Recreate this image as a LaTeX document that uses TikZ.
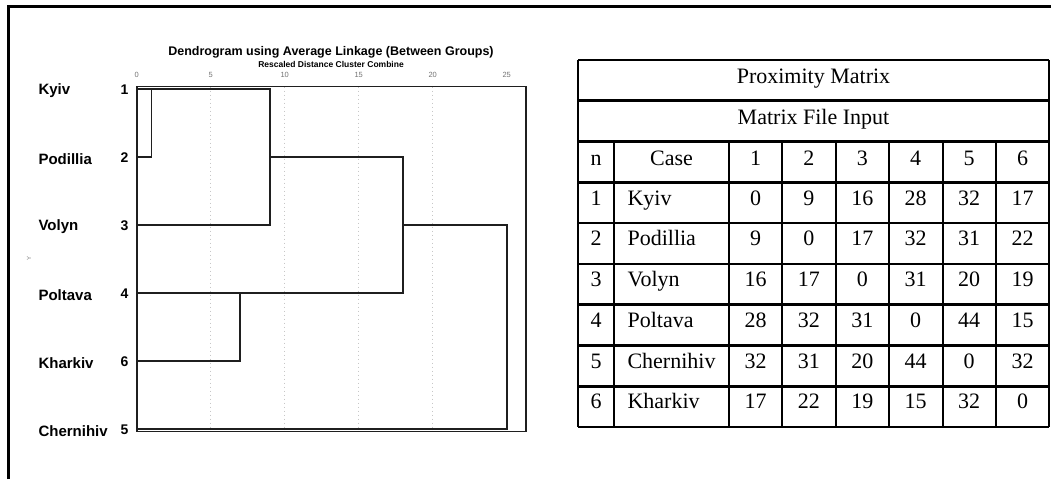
\documentclass[tikz,border=0pt]{standalone}
\usepackage{fontspec}
\setmainfont{Liberation Serif}
\newfontfamily\arialfont{Liberation Sans}
\begin{document}
\begin{tikzpicture}[x=1pt,y=-1pt,
    dline/.style={line width=1.8pt, black!88},
    gridline/.style={dash pattern=on 1.2pt off 2.8pt, black!22, line width=0.8pt},
    leaf/.style={font=\arialfont\bfseries\fontsize{15}{15}\selectfont, anchor=west},
    leafnum/.style={font=\arialfont\bfseries\fontsize{14}{14}\selectfont, anchor=east},
    ticklabel/.style={font=\arialfont\fontsize{7.5}{7.5}\selectfont, text=black!55},
    cell/.style={font=\fontsize{22}{22}\selectfont, anchor=base},
    tline/.style={line width=2.6pt}]
  \useasboundingbox (0,0) rectangle (1051,479);

  % Draw outer frame
  \draw[line width=3pt] (8.5,479) -- (8.5,6.5) -- (1051,6.5);

  % Titles of the dendrogram
  \node[font=\arialfont\bfseries\fontsize{12.5}{12.5}\selectfont] (title) at (331,52)
    {Dendrogram using Average Linkage (Between Groups)};
  \node[font=\arialfont\bfseries\fontsize{8.5}{8.5}\selectfont] (subtitle) at (331,64.5)
    {Rescaled Distance Cluster Combine};
  \node[rotate=90, font=\arialfont\fontsize{6}{6}\selectfont, text=black!50] (yaxis) at (29,258) {Y};

  % Leaf labels
  \foreach \name/\num/\y in {Kyiv/1/89, Podillia/2/157, Volyn/3/225,
                             Poltava/4/293, Kharkiv/6/361, Chernihiv/5/429} {
    \node[leaf] (l\num) at (35,\y+2) {\name};
    \node[leafnum] (n\num) at (132,\y+1) {\num};
  }

  % Dendrogram in distance units
  \begin{scope}[shift={(136.7,0)}, x=14.8pt]
    \foreach \v in {5,10,15,20}
      \draw[gridline] (\v,86.5) -- (\v,431.5);
    \foreach \v in {0,5,...,25}
      \node[ticklabel] (t\v) at (\v,75) {\v};

    \coordinate (c1) at (0,89);
    \coordinate (c2) at (0,157);
    \coordinate (c3) at (0,225);
    \coordinate (c4) at (0,293);
    \coordinate (c6) at (0,361);
    \coordinate (c5) at (0,429);

    % Draw merges
    \draw[dline] (c1) -- (9,89) -- (9,225) -- (c3);
    \draw[dline] (1,89) |- (c2);
    \draw[dline] (9,157) -- (18,157) |- (c4);
    \draw[dline] (c6) -| (7,293);
    \draw[dline] (18,225) -- (25,225) |- (c5);

    % Plot box
    \draw[dline] (0,86.5) rectangle (26.3,431.5);
  \end{scope}

  % Proximity matrix
  \foreach \i in {0,...,9}
    \draw[tline] (578,{60+40.78*\i}) -- (1049,{60+40.78*\i});
  \draw[tline] (578,60) -- (578,427);
  \draw[tline] (1049,60) -- (1049,427);
  \foreach \x in {614,729,782,836,889,943,996}
    \draw[tline] (\x,142) -- (\x,427);

  \node[cell] (hd1) at (813.5,83) {Proximity Matrix};
  \node[cell] (hd2) at (813.5,124) {Matrix File Input};
  \node[cell] (hn) at (596,165) {n};
  \node[cell] (hcase) at (671.5,165) {Case};
  \foreach \j in {1,...,6}
    \node[cell] (hc\j) at ({702.1+53.4*\j},165) {\j};

  \foreach \name/\a/\b/\c/\d/\e/\f [count=\k] in {
      Kyiv/0/9/16/28/32/17, Podillia/9/0/17/32/31/22, Volyn/16/17/0/31/20/19,
      Poltava/28/32/31/0/44/15, Chernihiv/32/31/20/44/0/32, Kharkiv/17/22/19/15/32/0} {
    \node[cell] (rn\k) at (596,{182+40.78*(\k-1)+23}) {\k};
    \node[cell, anchor=base west] (rc\k) at (624,{182+40.78*(\k-1)+23}) {\name};
    \foreach \v [count=\j] in {\a,\b,\c,\d,\e,\f}
      \node[cell] (v\k-\j) at ({702.1+53.4*\j},{182+40.78*(\k-1)+23}) {\v};
  }
\end{tikzpicture}
\end{document}
